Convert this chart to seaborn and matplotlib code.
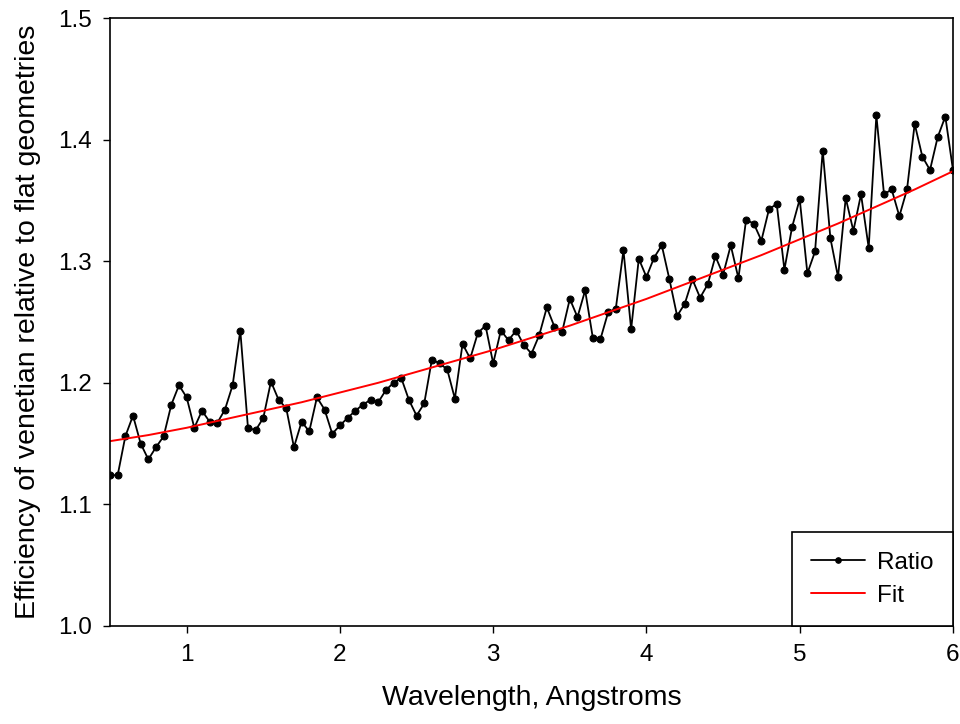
import matplotlib
matplotlib.use("Agg")
import matplotlib.pyplot as plt
import seaborn as sns
import numpy as np

# wavelength grid of the measured ratio (Angstroms)
wavelength = np.round(np.arange(0.5, 6.0001, 0.05), 2)

# efficiency ratio, one value per wavelength
ratio = [
    1.124, 1.124, 1.156, 1.173, 1.150, 1.137, 1.147, 1.156, 1.182, 1.198,
    1.188, 1.163, 1.177, 1.168, 1.167, 1.178, 1.198, 1.243, 1.163, 1.161,
    1.171, 1.201, 1.186, 1.179, 1.147, 1.168, 1.160, 1.188, 1.178, 1.158,
    1.165, 1.171, 1.177, 1.182, 1.186, 1.184, 1.194, 1.200, 1.204, 1.186,
    1.173, 1.183, 1.219, 1.216, 1.211, 1.187, 1.232, 1.220, 1.241, 1.247,
    1.216, 1.243, 1.235, 1.243, 1.231, 1.224, 1.239, 1.262, 1.246, 1.242,
    1.269, 1.254, 1.276, 1.237, 1.236, 1.258, 1.261, 1.309, 1.244, 1.302,
    1.287, 1.303, 1.313, 1.285, 1.255, 1.265, 1.285, 1.270, 1.281, 1.304,
    1.289, 1.313, 1.286, 1.334, 1.331, 1.317, 1.343, 1.347, 1.293, 1.328,
    1.351, 1.290, 1.308, 1.391, 1.319, 1.287, 1.352, 1.325, 1.355, 1.311,
    1.420, 1.355, 1.359, 1.337, 1.359, 1.413, 1.386, 1.375, 1.402, 1.419,
    1.375,
]

# fitted curve, read at every quarter Angstrom
fit_x = [0.5, 0.75, 1.0, 1.25, 1.5, 1.75, 2.0, 2.25, 2.5, 2.75, 3.0, 3.25,
         3.5, 3.75, 4.0, 4.25, 4.5, 4.75, 5.0, 5.25, 5.5, 5.75, 6.0]
fit_y = [1.152, 1.157, 1.163, 1.170, 1.177, 1.184, 1.192, 1.200, 1.209,
         1.218, 1.227, 1.237, 1.247, 1.258, 1.269, 1.281, 1.293, 1.305,
         1.318, 1.331, 1.345, 1.359, 1.374]

x_ticks = [1, 2, 3, 4, 5, 6]
y_ticks = [1.0, 1.1, 1.2, 1.3, 1.4, 1.5]

sns.set_style("ticks")
plt.rcParams["font.family"] = ["Liberation Sans", "DejaVu Sans"]
plt.rcParams["text.color"] = "black"
plt.rcParams["axes.labelcolor"] = "black"

fig = plt.figure(figsize=(9.6, 7.24), dpi=100)
ax = fig.add_axes([0.1146, 0.1354, 0.8781, 0.8397])

sns.lineplot(x=wavelength, y=ratio, ax=ax, color="black", linewidth=1.3,
             marker="o", markersize=5, markeredgecolor="black", label="Ratio")
sns.lineplot(x=fit_x, y=fit_y, ax=ax, color="red", linewidth=1.4, label="Fit")

ax.set_xlim(0.5, 6)
ax.set_ylim(1.0, 1.5)
ax.set_xticks(x_ticks)
ax.set_xticklabels([str(t) for t in x_ticks])
ax.set_yticks(y_ticks)
ax.set_yticklabels([f"{t:.1f}" for t in y_ticks])
ax.tick_params(direction="out", length=5, width=1, pad=8, labelsize=17.5,
               colors="black")
for s in ax.spines.values():
    s.set_visible(True)
    s.set_color("black")
    s.set_linewidth(1.2)

ax.set_xlabel("Wavelength, Angstroms", fontsize=20.5, labelpad=14)
ax.set_ylabel("Efficiency of venetian relative to flat geometries",
              fontsize=20.5, labelpad=12)

leg = ax.legend(loc="lower right", borderaxespad=0, fontsize=17.5,
                handlelength=2.2, numpoints=1, fancybox=False,
                framealpha=1, borderpad=0.8, handletextpad=0.5,
                labelspacing=0.45)
leg.get_frame().set_edgecolor("black")
leg.get_frame().set_linewidth(1.2)
for h in leg.get_lines():
    h.set_markersize(4)

fig.savefig("out.png", dpi=100)
